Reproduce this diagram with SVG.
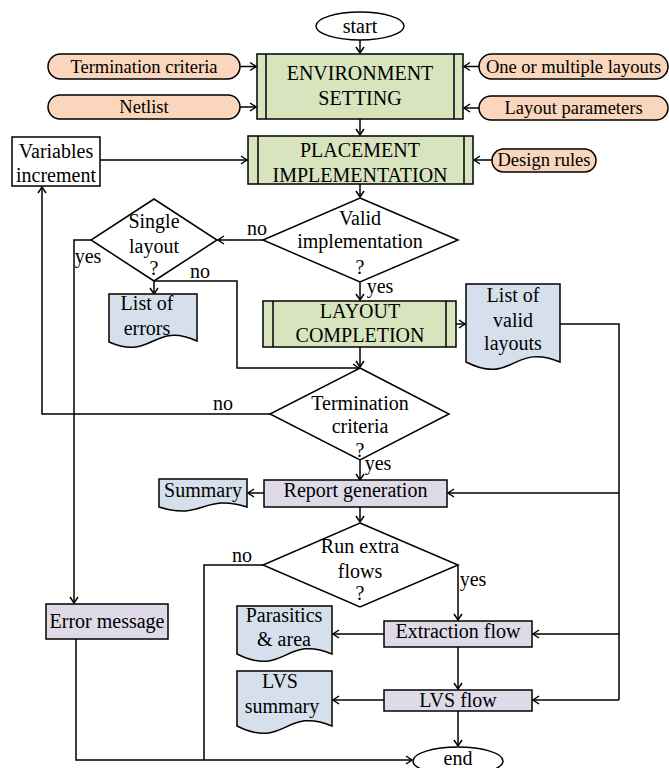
<svg xmlns="http://www.w3.org/2000/svg" width="669" height="768" viewBox="0 0 669 768" font-family="Liberation Serif, Times New Roman, serif">
<style>
text{font-family:'Liberation Serif','Times New Roman',serif;font-size:20px;fill:#000;text-anchor:middle}
.pt{font-size:18.5px}
.pill{fill:#F9D6BC;stroke:#000;stroke-width:1.5}
.proc{fill:#D7E4BD;stroke:#000;stroke-width:1.5}
.doc{fill:#D6E0EC;stroke:#000;stroke-width:1.5}
.box{fill:#DFDAE7;stroke:#000;stroke-width:1.5}
.plain{fill:#fff;stroke:#000;stroke-width:1.5}
.ln{fill:none;stroke:#000;stroke-width:1.5}
.c{fill:none;stroke:#000;stroke-width:1.5}
.a{marker-end:url(#ah)}
</style>
<defs>
<marker id="ah" markerUnits="userSpaceOnUse" markerWidth="12" markerHeight="12" viewBox="-8 -6 10 12" refX="0" refY="0" orient="auto">
<path d="M-6,-4 L0,0 L-6,4" fill="none" stroke="#000" stroke-width="1.5"/>
</marker>
</defs>
<rect width="669" height="768" fill="#fff"/>

<g id="connectors">
<path class="c a" d="M360,40 V53"/>
<path class="c a" d="M240,66.5 H256"/>
<path class="c a" d="M240,107 H256"/>
<path class="c a" d="M479,66.5 H464"/>
<path class="c a" d="M479,108 H464"/>
<path class="c a" d="M360,119 V135"/>
<path class="c a" d="M492,160 H474"/>
<path class="c a" d="M100,160 H247"/>
<path class="c a" d="M360,184 V197"/>
<path class="c a" d="M263,240 H218"/>
<path class="c a" d="M91,240 H74 V603"/>
<path class="c a" d="M154,281 V294"/>
<path class="c a" d="M154,281 H237 V368 H359"/>
<path class="c a" d="M360,282 V300"/>
<path class="c a" d="M456,324 H465"/>
<path class="c a" d="M360,347 V367"/>
<path class="c a" d="M270,414 H42 V187"/>
<path class="c a" d="M360,460 V480"/>
<path class="c a" d="M264,493 H248"/>
<path class="c" d="M560,324 H619 V700"/>
<path class="c a" d="M619,493 H448"/>
<path class="c a" d="M360,507 V522"/>
<path class="c a" d="M458,565 V620"/>
<path class="c a" d="M619,634 H533"/>
<path class="c a" d="M384,634 H333"/>
<path class="c a" d="M458,647 V689"/>
<path class="c a" d="M619,700 H533"/>
<path class="c a" d="M384,700 H333"/>
<path class="c a" d="M458,711 V746"/>
<path class="c" d="M263,565 H204 V760"/>
<path class="c a" d="M76,639 V760 H412"/>
</g>

<g id="label-no1"><text x="257" y="235">no</text></g>
<g id="label-yes1"><text x="88" y="263">yes</text></g>
<g id="label-no2"><text x="200" y="278">no</text></g>
<g id="label-yes2"><text x="380" y="293">yes</text></g>
<g id="label-no3"><text x="223" y="410">no</text></g>
<g id="label-yes3"><text x="378" y="470">yes</text></g>
<g id="label-no4"><text x="242" y="562">no</text></g>
<g id="label-yes4"><text x="473" y="586">yes</text></g>

<g id="start">
<ellipse class="plain" cx="360" cy="26" rx="44" ry="14"/>
<text x="360" y="33" font-family="Liberation Serif">start</text>
</g>

<g id="env">
<rect class="proc" x="257" y="54" width="206" height="65"/>
<path class="ln" d="M266,54 V119 M454,54 V119"/>
<text x="360" y="80">ENVIRONMENT</text>
<text x="360" y="105">SETTING</text>
</g>

<g id="termcrit-in">
<rect class="pill" x="48" y="54" width="192" height="25" rx="12.5"/>
<text class="pt" x="144" y="73">Termination criteria</text>
</g>
<g id="netlist">
<rect class="pill" x="48" y="95" width="192" height="24" rx="12"/>
<text class="pt" x="144" y="113">Netlist</text>
</g>
<g id="layouts-in">
<rect class="pill" x="479" y="54" width="189" height="25" rx="12.5"/>
<text class="pt" x="573.5" y="73">One or multiple layouts</text>
</g>
<g id="layout-params">
<rect class="pill" x="479" y="96" width="189" height="24" rx="12"/>
<text class="pt" x="573.5" y="114">Layout parameters</text>
</g>

<g id="placement">
<rect class="proc" x="248" y="136" width="225" height="48"/>
<path class="ln" d="M258,136 V184 M464,136 V184"/>
<text x="360" y="157">PLACEMENT</text>
<text x="360" y="182">IMPLEMENTATION</text>
</g>
<g id="design-rules">
<rect class="pill" x="492" y="149" width="104" height="23" rx="11.5"/>
<text class="pt" x="544" y="166">Design rules</text>
</g>
<g id="variables">
<rect class="plain" x="12" y="137" width="88" height="49"/>
<text x="56" y="158">Variables</text>
<text x="56" y="182">increment</text>
</g>

<g id="valid">
<polygon class="plain" points="360,198 458,240 360,282 263,240"/>
<text x="360" y="225">Valid</text>
<text x="360" y="248">implementation</text>
<text x="360" y="274">?</text>
</g>
<g id="single">
<polygon class="plain" points="154,199 217,240 154,281 91,240"/>
<text x="154" y="228">Single</text>
<text x="154" y="253">layout</text>
<text x="154" y="275">?</text>
</g>
<g id="errors-doc">
<path class="doc" d="M109,294 H197 V341 C153,321 153,361 109,342 Z"/>
<text x="147" y="310">List of</text>
<text x="147" y="335">errors</text>
</g>

<g id="layout-completion">
<rect class="proc" x="263" y="301" width="193" height="46"/>
<path class="ln" d="M273,301 V347 M446,301 V347"/>
<text x="360" y="318">LAYOUT</text>
<text x="360" y="342">COMPLETION</text>
</g>
<g id="valid-layouts">
<path class="doc" d="M466,284 H560 V362 C513,342 513,386 466,362 Z"/>
<text x="513" y="302">List of</text>
<text x="513" y="327">valid</text>
<text x="513" y="350">layouts</text>
</g>

<g id="termination">
<polygon class="plain" points="360,368 449,414 360,460 270,414"/>
<text x="360" y="410">Termination</text>
<text x="360" y="433">criteria</text>
<text x="360" y="457">?</text>
</g>

<g id="report">
<rect class="box" x="264" y="480" width="183" height="27"/>
<text x="355.5" y="497">Report generation</text>
</g>
<g id="summary">
<path class="doc" d="M159,479 H247 V507 C203,493 203,521 159,507 Z"/>
<text x="203" y="497">Summary</text>
</g>

<g id="run-extra">
<polygon class="plain" points="360,523 458,565 360,607 263,565"/>
<text x="360" y="553">Run extra</text>
<text x="360" y="578">flows</text>
<text x="360" y="600">?</text>
</g>

<g id="error-msg">
<rect class="box" x="46" y="604" width="122" height="35"/>
<text x="107" y="628">Error message</text>
</g>

<g id="extraction">
<rect class="box" x="384" y="621" width="148" height="26"/>
<text x="458" y="638">Extraction flow</text>
</g>
<g id="parasitics">
<path class="doc" d="M237,606 H332 V654 C285,634 285,678 237,654 Z"/>
<text x="284" y="622">Parasitics</text>
<text x="284" y="646">&amp; area</text>
</g>

<g id="lvs">
<rect class="box" x="384" y="690" width="148" height="21"/>
<text x="458" y="707">LVS flow</text>
</g>
<g id="lvs-summary">
<path class="doc" d="M237,671 H332 V726 C285,706 285,750 237,726 Z"/>
<text x="280" y="688">LVS</text>
<text x="282" y="713">summary</text>
</g>

<g id="end">
<ellipse class="plain" cx="458" cy="761" rx="45" ry="14"/>
<text x="458" y="765">end</text>
</g>
</svg>
